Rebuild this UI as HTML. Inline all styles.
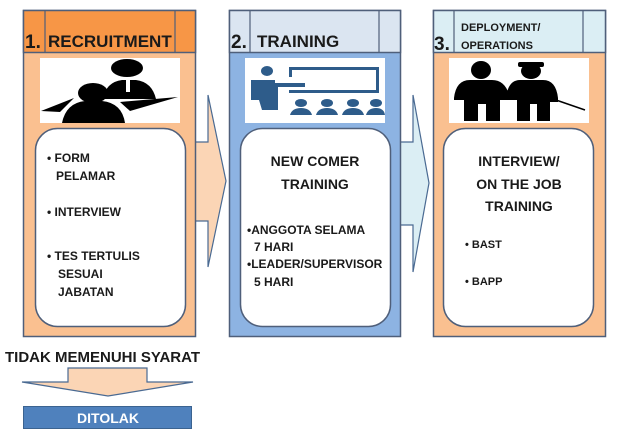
<!DOCTYPE html>
<html><head><meta charset="utf-8"><style>
html,body{margin:0;padding:0;background:#fff;width:626px;height:436px;overflow:hidden}
text{font-family:"Liberation Sans",sans-serif;font-weight:bold;fill:#1a1a1a}
</style></head><body>
<svg width="626" height="436" viewBox="0 0 626 436" xmlns="http://www.w3.org/2000/svg">
<!-- arrows between panels -->
<path d="M190 142 H208 V95 L226 181 L208 267 V221 H190 Z" fill="#fbd5b5" stroke="#4a6a92" stroke-width="1.2"/>
<path d="M396 142 H413 V95 L429 183 L413 272 V225 H396 Z" fill="#dbeef4" stroke="#4a6a92" stroke-width="1.2"/>

<!-- Panel 1 -->
<rect x="23.5" y="10.5" width="172" height="326" fill="#fac090" stroke="#4f5f7a" stroke-width="1.5"/>
<rect x="23.5" y="10.5" width="172" height="42" fill="#f79646" stroke="#4f5f7a" stroke-width="1.5"/>
<line x1="45" y1="10" x2="45" y2="52" stroke="#4f5f7a" stroke-width="1.2"/>
<line x1="175" y1="10" x2="175" y2="52" stroke="#4f5f7a" stroke-width="1.2"/>
<text x="25" y="48" font-size="19">1.</text>
<text x="48" y="47" font-size="17">RECRUITMENT</text>
<rect x="40" y="58" width="140" height="65" fill="#fff"/>
<!-- interview icon -->
<g fill="#000">
<ellipse cx="127" cy="68" rx="16" ry="9"/>
<path d="M103 99 Q106 82 122 80 H136 Q152 82 156 99 Z"/>
<ellipse cx="93" cy="93" rx="15" ry="10"/>
<path d="M62 123 Q66 103 85 101 H102 Q122 103 125 123 Z"/>
<path d="M41 111 L74 98 L60 112 Z"/>
<path d="M120 102 L178 97 L130 111 Z"/>
</g>
<rect x="126" y="80" width="4" height="12" fill="#fff"/>
<rect x="35.5" y="128.5" width="150" height="198" rx="22" fill="#fff" stroke="#4f5f7a" stroke-width="1.5"/>
<g font-size="12">
<text x="47" y="162">• FORM</text>
<text x="56" y="180">PELAMAR</text>
<text x="47" y="216">• INTERVIEW</text>
<text x="47" y="260">• TES TERTULIS</text>
<text x="58" y="278">SESUAI</text>
<text x="58" y="296">JABATAN</text>
</g>

<!-- Panel 2 -->
<rect x="229.5" y="10.5" width="171" height="326" fill="#8db3e2" stroke="#4f5f7a" stroke-width="1.5"/>
<rect x="229.5" y="10.5" width="171" height="42" fill="#dbe5f1" stroke="#4f5f7a" stroke-width="1.5"/>
<line x1="250" y1="10" x2="250" y2="52" stroke="#4f5f7a" stroke-width="1.2"/>
<line x1="379" y1="10" x2="379" y2="52" stroke="#4f5f7a" stroke-width="1.2"/>
<text x="231" y="48" font-size="19">2.</text>
<text x="257" y="47" font-size="17">TRAINING</text>
<rect x="245" y="58" width="140" height="65" fill="#fff"/>
<g fill="#2e5c8a">
<ellipse cx="267" cy="71" rx="6" ry="5"/>
<path d="M251 80 H275 V83 H305 V87 H278 V110 H262 L259 100 H251 Z"/>
<rect x="289" y="67" width="90" height="3"/>
<rect x="376" y="67" width="3" height="26"/>
<rect x="289" y="90" width="90" height="3"/>
<rect x="289" y="67" width="3" height="10"/>
<g>
<ellipse cx="301" cy="103" rx="6" ry="4"/><path d="M290 115 Q292 108 301 108 Q310 108 312 115 Z"/>
<ellipse cx="327" cy="103" rx="6" ry="4"/><path d="M316 115 Q318 108 327 108 Q336 108 338 115 Z"/>
<ellipse cx="353" cy="103" rx="6" ry="4"/><path d="M342 115 Q344 108 353 108 Q362 108 364 115 Z"/>
<ellipse cx="376" cy="103" rx="6" ry="4"/><path d="M366 115 Q368 108 376 108 Q384 108 385 115 Z"/>
</g>
</g>
<rect x="240.5" y="128.5" width="150" height="198" rx="22" fill="#fff" stroke="#4f5f7a" stroke-width="1.5"/>
<text x="315" y="166" font-size="14" text-anchor="middle">NEW COMER</text>
<text x="315" y="189" font-size="14" text-anchor="middle">TRAINING</text>
<g font-size="12">
<text x="247" y="234">•ANGGOTA SELAMA</text>
<text x="254" y="251">7 HARI</text>
<text x="247" y="268">•LEADER/SUPERVISOR</text>
<text x="254" y="286">5 HARI</text>
</g>

<!-- Panel 3 -->
<rect x="433.5" y="10.5" width="172" height="326" fill="#fac090" stroke="#4f5f7a" stroke-width="1.5"/>
<rect x="433.5" y="10.5" width="172" height="42" fill="#dbeef4" stroke="#4f5f7a" stroke-width="1.5"/>
<line x1="454" y1="10" x2="454" y2="52" stroke="#4f5f7a" stroke-width="1.2"/>
<line x1="583" y1="10" x2="583" y2="52" stroke="#4f5f7a" stroke-width="1.2"/>
<text x="434" y="50" font-size="19">3.</text>
<text x="461" y="31" font-size="11">DEPLOYMENT/</text>
<text x="461" y="49" font-size="11">OPERATIONS</text>
<rect x="449" y="58" width="140" height="65" fill="#fff"/>
<g fill="#000">
<ellipse cx="481" cy="70" rx="10" ry="9"/>
<path d="M454 98 Q456 80 470 80 H492 Q506 80 510 98 V100 H500 V121 H486 V104 H478 V121 H464 V100 H454 Z"/>
<ellipse cx="531" cy="71" rx="10" ry="8"/>
<rect x="518" y="62" width="26" height="5" rx="2"/>
<path d="M506 98 Q508 80 520 80 H543 Q556 80 558 98 V102 H550 V121 H537 V104 H530 V121 H517 V100 H506 Z"/>
</g>
<line x1="556" y1="100" x2="585" y2="110" stroke="#000" stroke-width="1.5"/>
<rect x="443.5" y="128.5" width="150" height="198" rx="22" fill="#fff" stroke="#4f5f7a" stroke-width="1.5"/>
<text x="519" y="166" font-size="14" text-anchor="middle">INTERVIEW/</text>
<text x="519" y="189" font-size="14" text-anchor="middle">ON THE JOB</text>
<text x="519" y="211" font-size="14" text-anchor="middle">TRAINING</text>
<text x="465" y="248" font-size="11">• BAST</text>
<text x="465" y="285" font-size="11">• BAPP</text>

<!-- bottom -->
<text x="5" y="362" font-size="15" textLength="195" lengthAdjust="spacingAndGlyphs">TIDAK MEMENUHI SYARAT</text>
<path d="M68 368 H147 V382 H193 L108 396 L22 382 H68 Z" fill="#fbd5b5" stroke="#4a6a92" stroke-width="1.2"/>
<rect x="23.5" y="406.5" width="168" height="22" fill="#4f81bd" stroke="#3b6390" stroke-width="1"/>
<text x="108" y="423" font-size="14" text-anchor="middle" style="fill:#fff">DITOLAK</text>
</svg>
</body></html>
